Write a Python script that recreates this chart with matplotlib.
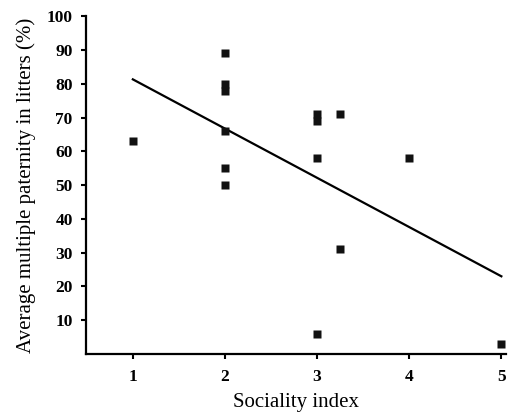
import numpy as np
import matplotlib.pyplot as plt

# sociality index vs average multiple paternity (%)
sociality = [1, 2, 2, 2, 2, 2, 2, 3, 3, 3.25, 3, 3.25, 3, 4, 5]
paternity = [63, 89, 80, 78, 66, 55, 50, 71, 69, 71, 58, 31, 6, 58, 3]

# regression line end points
fit_x = [1, 5]
fit_y = [81.3, 23]

xticks = [1, 2, 3, 4, 5]
yticks = [10, 20, 30, 40, 50, 60, 70, 80, 90, 100]

plt.rcParams['font.family'] = ['Liberation Serif', 'DejaVu Serif']

fig = plt.figure(figsize=(5.08, 4.15), dpi=100)
ax = fig.add_axes([0.169, 0.147, 0.827, 0.814])

ax.plot(fit_x, fit_y, color='black', lw=1.6, zorder=1)
ax.plot(sociality, paternity, 's', color='#111111', ms=5.2, mec='none', zorder=2)

ax.set_xlim(0.49, 5.05)
ax.set_ylim(0, 100)
ax.set_xticks(xticks)
ax.set_yticks(yticks)

for side in ['top', 'right']:
    ax.spines[side].set_visible(False)
for side in ['left', 'bottom']:
    ax.spines[side].set_linewidth(1.6)

ax.tick_params(direction='out', length=3.5, width=1.5, labelsize=12.5)
ax.tick_params(axis='x', pad=7)
ax.tick_params(axis='y', pad=6)
for lab in ax.get_xticklabels() + ax.get_yticklabels():
    lab.set_fontweight('bold')

ax.set_xlabel('Sociality index', fontsize=15, labelpad=6)
ax.set_ylabel('Average multiple paternity in litters (%)', fontsize=15, labelpad=8)

plt.savefig('out.png', dpi=100)
